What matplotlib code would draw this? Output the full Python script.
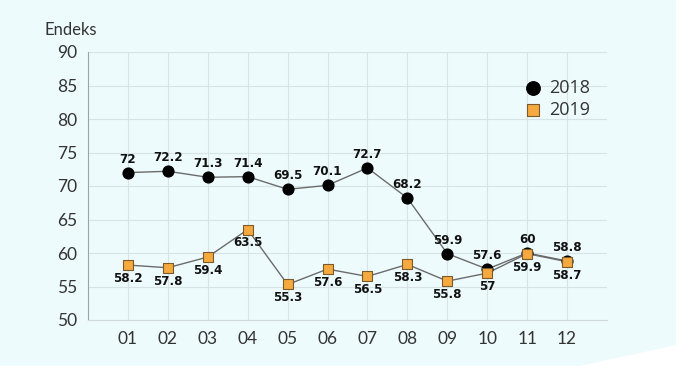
import matplotlib
matplotlib.use("Agg")
import matplotlib.pyplot as plt
from matplotlib.patches import Polygon

months = ["01", "02", "03", "04", "05", "06", "07", "08", "09", "10", "11", "12"]
y2018 = [72, 72.2, 71.3, 71.4, 69.5, 70.1, 72.7, 68.2, 59.9, 57.6, 60, 58.8]
y2019 = [58.2, 57.8, 59.4, 63.5, 55.3, 57.6, 56.5, 58.3, 55.8, 57, 59.9, 58.7]
yticks = [50, 55, 60, 65, 70, 75, 80, 85, 90]

BG = "#eefbfd"
W, H = 699, 382

fig = plt.figure(figsize=(W / 100, H / 100), dpi=100, facecolor="white")
# cyan panel with the cut bottom-right corner
bg = Polygon([(0, 1), (676 / W, 1), (676 / W, 1 - 345 / H), (580 / W, 1 - 366 / H), (0, 1 - 366 / H)],
             closed=True, transform=fig.transFigure, facecolor=BG, edgecolor="none", zorder=-10)
fig.patches.append(bg)

ax = fig.add_axes([88 / W, 1 - 320 / H, (607 - 88) / W, (320 - 52) / H])
ax.set_zorder(1)
ax.set_facecolor(BG)
x = list(range(1, len(months) + 1))

ax.plot(x, y2018, color="#6b6b6b", lw=1, zorder=2)
ax.plot(x, y2019, color="#6b6b6b", lw=1, zorder=2)
ax.scatter(x, y2018, s=60, marker="o", color="black", zorder=3, label="2018")
ax.scatter(x, y2019, s=55, marker="s", color="#f5a93f", edgecolors="#7a5a2a", linewidths=0.8, zorder=4, label="2019")

lab = dict(fontsize=9.5, fontweight="bold", family="DejaVu Sans", fontstretch="condensed",
           color="#111111", ha="center")
for xi, v in zip(x, y2018):
    ax.annotate(f"{v:g}", (xi, v), xytext=(0, 5), textcoords="offset points", va="bottom", **lab)
for xi, v in zip(x, y2019):
    ax.annotate(f"{v:g}", (xi, v), xytext=(0, -5), textcoords="offset points", va="top", **lab)

ax.set_xlim(0, 13)
ax.set_ylim(50, 90)
ax.set_xticks(x)
ax.set_xticklabels(months)
ax.set_yticks(yticks)
ax.grid(True, color="#d7e3e6", lw=0.8)
ax.set_axisbelow(True)
for s in ["top", "right"]:
    ax.spines[s].set_visible(False)
ax.spines["left"].set_color("#9aa5a8")
ax.spines["bottom"].set_color("#d0dadc")
ax.tick_params(length=0, labelsize=12.5, labelcolor="#333333", pad=8)
for t in ax.get_xticklabels() + ax.get_yticklabels():
    t.set_family(["Lato", "DejaVu Sans"])

fig.text(45 / W, 1 - 30 / H, "Endeks", fontsize=12, color="#333333", family=["Lato", "DejaVu Sans"], va="center")

leg = ax.legend(loc="center left", bbox_to_anchor=(0.805, 0.825), frameon=False, markerscale=1.25,
                handletextpad=0.3, handlelength=1.2, labelspacing=0.25,
                prop={"family": "Open Sans", "size": 13})
for t in leg.get_texts():
    t.set_color("#333333")

fig.savefig("out.png", dpi=100, facecolor="white")
